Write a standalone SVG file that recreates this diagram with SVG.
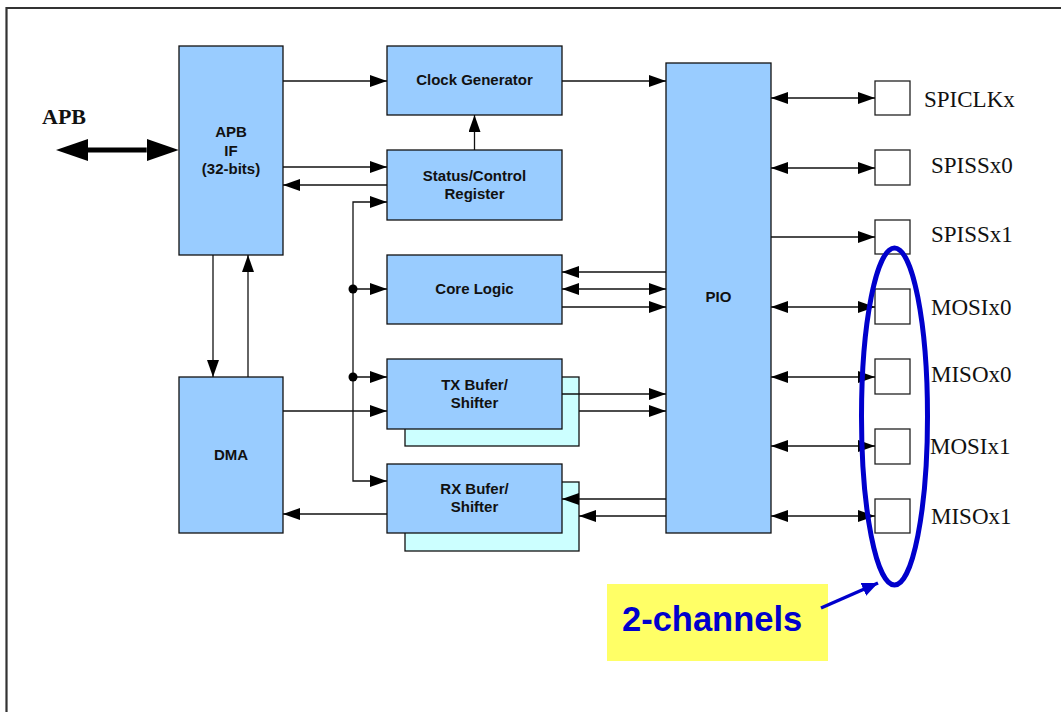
<svg xmlns="http://www.w3.org/2000/svg" width="1061" height="712" viewBox="0 0 1061 712">
<style>
.node{fill:#99CCFF;stroke:#111;stroke-width:1.3}
.shadow{fill:#CCFFFF;stroke:#111;stroke-width:1.3}
.pad{fill:#fff;stroke:#222;stroke-width:1.3}
.lbl{font-family:"Liberation Sans",Arial,sans-serif;font-weight:bold;font-size:15px;fill:#111;text-anchor:middle}
.pin{font-family:"Liberation Serif","Times New Roman",serif;font-size:23px;fill:#111}
.c{fill:none;stroke:#111;stroke-width:1.3}
.e{marker-end:url(#ah)}
.d{marker-start:url(#ah);marker-end:url(#ah)}
</style>
<defs>
<marker id="ah" markerUnits="userSpaceOnUse" markerWidth="17" markerHeight="12" refX="17" refY="6" orient="auto-start-reverse" viewBox="0 0 17 12">
<path d="M0,0 L17,6 L0,12 z" fill="#000"/>
</marker>
<marker id="big" markerUnits="userSpaceOnUse" markerWidth="32" markerHeight="22" refX="0" refY="11" orient="auto-start-reverse" viewBox="0 0 32 22">
<path d="M0,0 L32,11 L0,22 z" fill="#000"/>
</marker>
<marker id="blue" markerUnits="userSpaceOnUse" markerWidth="16" markerHeight="14" refX="16" refY="7" orient="auto" viewBox="0 0 16 14">
<path d="M0,0 L16,7 L0,14 z" fill="#0000CC"/>
</marker>
</defs>
<rect width="1061" height="712" fill="#fff"/>
<path d="M6.5,720 V8 H1075" fill="none" stroke="#333" stroke-width="2.2"/>
<text x="42" y="124" font-family="Liberation Serif,'Times New Roman',serif" font-weight="bold" font-size="22" fill="#111">APB</text>

<g id="apbif"><rect class="node" x="179" y="46" width="104" height="209"/>
<text class="lbl" x="231" y="137">APB</text><text class="lbl" x="231" y="155.5">IF</text><text class="lbl" x="231" y="174">(32-bits)</text></g>
<g id="dma"><rect class="node" x="179" y="377" width="104" height="156"/><text class="lbl" x="231" y="460">DMA</text></g>
<g id="clockgen"><rect class="node" x="387" y="46" width="175" height="69"/><text class="lbl" x="474.5" y="85">Clock Generator</text></g>
<g id="statusreg"><rect class="node" x="387" y="150" width="175" height="70"/><text class="lbl" x="474.5" y="180.5">Status/Control</text><text class="lbl" x="474.5" y="198.5">Register</text></g>
<g id="corelogic"><rect class="node" x="387" y="255" width="175" height="69"/><text class="lbl" x="474.5" y="294">Core Logic</text></g>
<g id="txbuf"><rect class="shadow" x="405" y="377" width="174" height="69"/><rect class="node" x="387" y="359" width="175" height="70"/><text class="lbl" x="474.5" y="390">TX Bufer/</text><text class="lbl" x="474.5" y="408">Shifter</text></g>
<g id="rxbuf"><rect class="shadow" x="405" y="482" width="174" height="69"/><rect class="node" x="387" y="464" width="175" height="69"/><text class="lbl" x="474.5" y="494">RX Bufer/</text><text class="lbl" x="474.5" y="512">Shifter</text></g>
<g id="pio"><rect class="node" x="666" y="63" width="105" height="470"/><text class="lbl" x="718.5" y="302">PIO</text></g>

<g id="pad-spiclkx"><rect class="pad" x="875" y="81" width="35" height="34"/><text class="pin" x="924" y="107">SPICLKx</text></g>
<g id="pad-spissx0"><rect class="pad" x="875" y="150" width="35" height="35"/><text class="pin" x="931" y="173">SPISSx0</text></g>
<g id="pad-spissx1"><rect class="pad" x="875" y="220" width="35" height="34"/><text class="pin" x="931" y="242">SPISSx1</text></g>
<g id="pad-mosix0"><rect class="pad" x="875" y="289" width="35" height="35"/><text class="pin" x="931" y="315">MOSIx0</text></g>
<g id="pad-misox0"><rect class="pad" x="875" y="359" width="35" height="35"/><text class="pin" x="931" y="382">MISOx0</text></g>
<g id="pad-mosix1"><rect class="pad" x="875" y="429" width="35" height="35"/><text class="pin" x="930" y="454">MOSIx1</text></g>
<g id="pad-misox1"><rect class="pad" x="875" y="499" width="35" height="34"/><text class="pin" x="931" y="524">MISOx1</text></g>

<g id="connectors">
<path d="M88,150 H146.7" fill="none" stroke="#000" stroke-width="5" marker-start="url(#big)" marker-end="url(#big)"/>
<path class="c e" d="M283,81 H387"/>
<path class="c e" d="M562,81 H666"/>
<path class="c e" d="M474.5,150 V115"/>
<path class="c e" d="M283,167 H387"/>
<path class="c e" d="M387,185 H283"/>
<path class="c e" d="M353,289 V202 H387"/>
<path class="c e" d="M353,289 V481 H387"/>
<path class="c e" d="M353,289 H387"/>
<path class="c e" d="M353,377 H387"/>
<circle cx="353" cy="289" r="4.5" fill="#000"/>
<circle cx="353" cy="377" r="4.5" fill="#000"/>
<path class="c e" d="M283,411 H387"/>
<path class="c e" d="M387,514 H283"/>
<path class="c e" d="M213,255 V377"/>
<path class="c e" d="M248,377 V255"/>
<path class="c e" d="M666,272 H562"/>
<path class="c d" d="M562,289 H666"/>
<path class="c e" d="M562,307 H666"/>
<path class="c e" d="M562,394 H666"/>
<path class="c e" d="M579,411 H666"/>
<path class="c e" d="M666,499 H562"/>
<path class="c e" d="M666,516 H579"/>
<path class="c d" d="M771,98 H875"/>
<path class="c d" d="M771,168 H875"/>
<path class="c e" d="M771,237 H875"/>
<path class="c d" d="M771,307 H875"/>
<path class="c d" d="M771,377 H875"/>
<path class="c d" d="M771,446 H875"/>
<path class="c d" d="M771,516 H875"/>
</g>

<g id="channels">
<ellipse cx="894.5" cy="416.5" rx="33" ry="168.5" fill="none" stroke="#0000CC" stroke-width="5"/>
<rect x="607" y="584" width="221" height="77" fill="#FFFF66"/>
<text x="622" y="631" font-family="'Liberation Sans',Arial,sans-serif" font-weight="bold" font-size="34.5" fill="#0000CC">2-channels</text>
<path d="M821,608 L878,583" fill="none" stroke="#0000CC" stroke-width="3.5" marker-end="url(#blue)"/>
</g>
</svg>
